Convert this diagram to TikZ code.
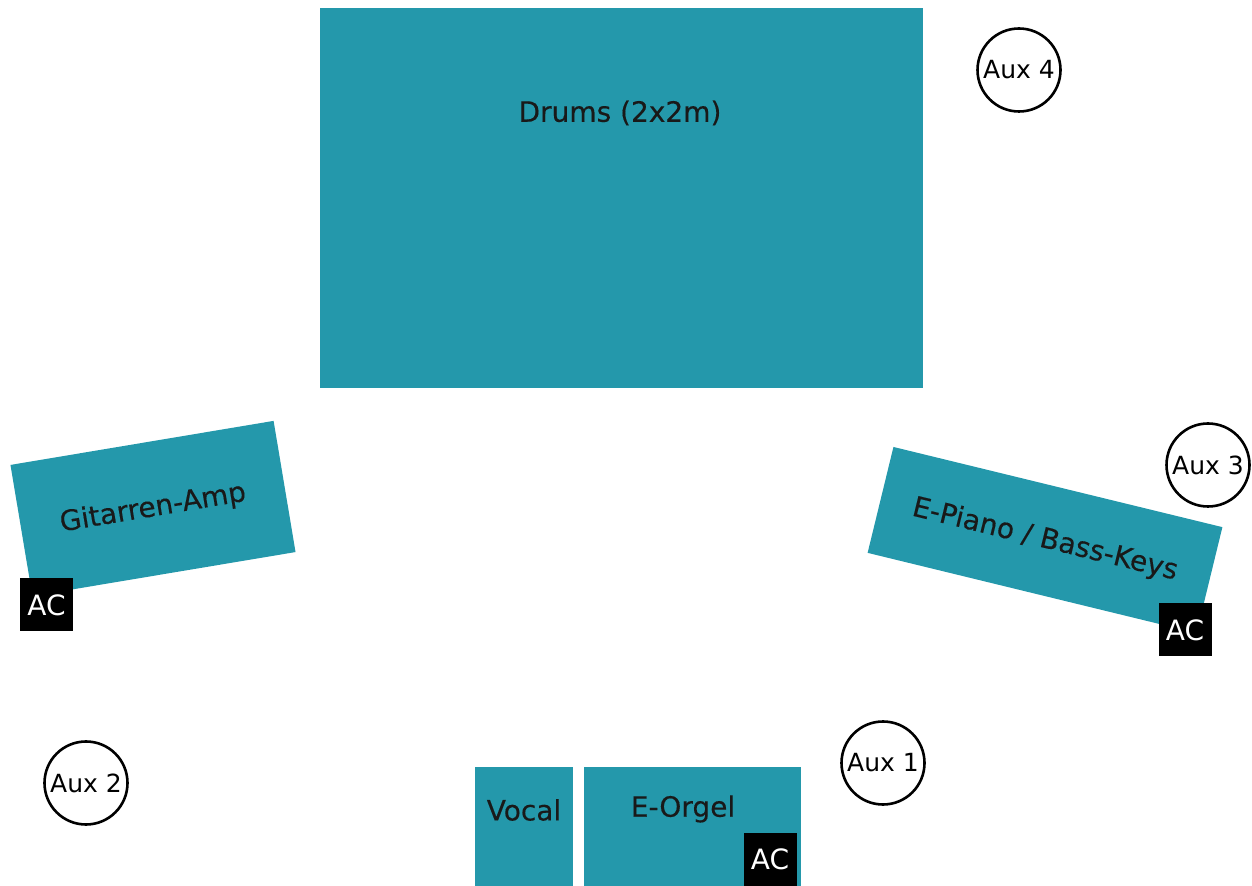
\documentclass[tikz,border=0pt]{standalone}
\usepackage{fontspec}
\setmainfont{DejaVu Sans}
\newfontfamily\captionfont[FakeBold=0.3]{DejaVu Sans}
\usepackage{tikz}
\usetikzlibrary{positioning}
\definecolor{stageteal}{RGB}{36,152,171}

\begin{document}
\begin{tikzpicture}[x=0.5pt, y=-0.5pt,
					instrument/.style={rectangle, fill=stageteal, inner sep=0pt, text=black!90, font=\captionfont\fontsize{14}{16}\selectfont},
					caption/.style={inner sep=0pt, text=black!90, font=\captionfont\fontsize{14}{16}\selectfont},
					ac/.style={rectangle, fill=black, text=white, minimum size=26.5pt, inner sep=0pt, font=\fontsize{14}{16}\selectfont},
					monitor/.style={circle, draw=black, line width=1.3pt, fill=white, minimum size=41.5pt, inner sep=0pt, font=\fontsize{12.5}{14}\selectfont}]
	\useasboundingbox (0,0) rectangle (1252,886);
	% drum riser
	\node[instrument, minimum width=301.5pt, minimum height=190pt] (drums) at (621.5,198) {};
	\node[caption] (drumsText) at (620,113) {Drums (2x2m)};
	% side lines
	\node[instrument, rotate=9.5, minimum width=133.4pt, minimum height=66.5pt] (amp) at (153,508.5) {Gitarren-Amp};
	\node[instrument, rotate=-13.7, minimum width=169.3pt, minimum height=54.5pt] (piano) at (1045,540) {E-Piano / Bass-Keys};
	% front line
	\node[instrument, minimum width=49pt, minimum height=59.5pt] (vocal) at (524,826.5) {};
	\node[caption] (vocalText) at (524,810) {Vocal};
	\node[instrument, minimum width=108.5pt, minimum height=59.5pt] (orgel) at (692.5,826.5) {};
	\node[caption] (orgelText) at (683,809) {E-Orgel};
	% power
	\node[ac] (ampAC) at (46.5,605) {AC};
	\node[ac] (pianoAC) at (1185,630) {AC};
	\node[ac] (orgelAC) at (770,859.5) {AC};
	% monitors
	\node[monitor] (aux1) at (883,763) {Aux 1};
	\node[monitor] (aux2) at (86,783) {Aux 2};
	\node[monitor] (aux3) at (1208,465) {Aux 3};
	\node[monitor] (aux4) at (1019,70) {Aux 4};
\end{tikzpicture}
\end{document}
